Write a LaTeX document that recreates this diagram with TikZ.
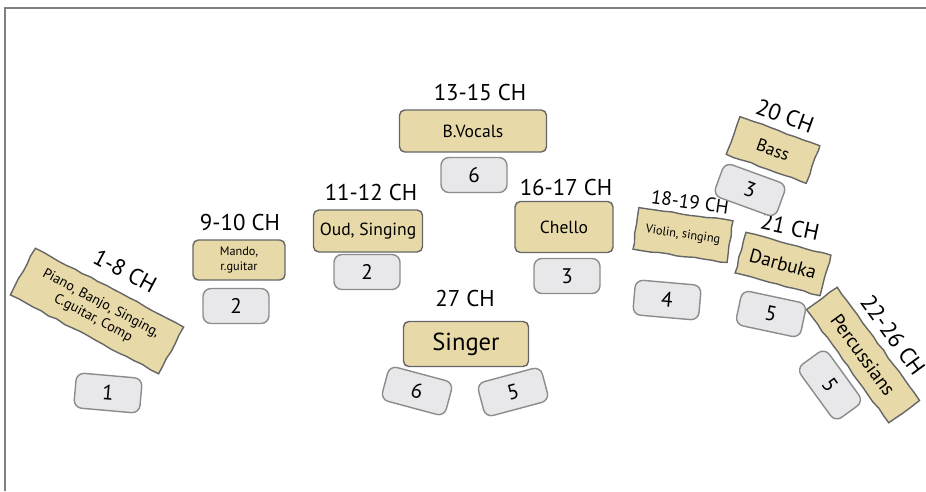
\documentclass[tikz,border=0pt]{standalone}
\usepackage{fontspec}
\setmainfont{PT Sans}
\usetikzlibrary{decorations.pathmorphing}
\definecolor{parttan}{RGB}{232,218,168}
\definecolor{seatgray}{RGB}{232,232,234}
\definecolor{framegray}{RGB}{128,128,128}

\tikzset{
  part/.style={draw=black!60, fill=parttan, rounded corners=3pt, line width=0.8pt, inner sep=1pt, align=center, font=\fontsize{10}{11}\selectfont},
  seat/.style={draw=black!45, fill=seatgray, rounded corners=4.5pt, line width=0.8pt, minimum width=1.32cm, minimum height=0.7cm, inner sep=0pt, font=\fontsize{12}{12}\selectfont},
  chan/.style={inner sep=1pt, font=\fontsize{13}{13}\selectfont},
  rough/.style={sharp corners, decorate, decoration={random steps, segment length=5pt, amplitude=0.4pt}}
}

\begin{document}
\begin{tikzpicture}[x=0.02cm, y=-0.02cm]
            \useasboundingbox (0,0) rectangle (926,491);
            \draw[framegray, line width=1.2pt] (5,491) -- (5,8) -- (926,8);

            % instruments
            \node[part, rough, rotate=-28, minimum width=3.36cm, minimum height=1.06cm, font=\fontsize{8}{9.5}\selectfont] (piano) at (97,311) {Piano, Banjo, Singing,\\ C.guitar, Comp};
            \node[part, minimum width=1.84cm, minimum height=0.8cm, font=\fontsize{7}{8}\selectfont] (mando) at (239,260) {Mando,\\ r.guitar};
            \node[part, minimum width=2.18cm, minimum height=0.84cm] (oud) at (368,231) {Oud, Singing};
            \node[part, minimum width=2.94cm, minimum height=0.84cm] (bvocals) at (473,131) {B.Vocals};
            \node[part, minimum width=1.96cm, minimum height=1.02cm] (chello) at (564,227) {Chello};
            \node[part, minimum width=2.5cm, minimum height=0.9cm, font=\fontsize{14}{14}\selectfont] (singer) at (466,344) {Singer};
            \node[part, rough, rotate=-8, minimum width=1.9cm, minimum height=0.84cm, font=\fontsize{7}{8}\selectfont] (violin) at (683,235) {Violin, singing};
            \node[part, rough, rotate=-20, minimum width=1.7cm, minimum height=0.8cm] (bass) at (773,150) {Bass};
            \node[part, rough, rotate=-15, minimum width=1.76cm, minimum height=0.84cm, font=\fontsize{11}{11}\selectfont] (darbuka) at (783,264) {Darbuka};
            \node[part, rough, rotate=-54, minimum width=2.8cm, minimum height=0.76cm, font=\fontsize{11}{11}\selectfont] (perc) at (863,355) {Percussians};

            % channels
            \node[chan, rotate=-28] (pianoch) at (125,271) {1-8 CH};
            \node[chan] (mandoch) at (240,222) {9-10 CH};
            \node[chan] (oudch) at (371,192) {11-12 CH};
            \node[chan] (bvocalsch) at (480,92) {13-15 CH};
            \node[chan] (chelloch) at (566,187) {16-17 CH};
            \node[chan] (singerch) at (465,298) {27 CH};
            \node[chan, rotate=-8, font=\fontsize{11}{11}\selectfont] (violinch) at (690,202) {18-19 CH};
            \node[chan, rotate=-20] (bassch) at (785,116) {20 CH};
            \node[chan, rotate=-12] (darbukach) at (790,227) {21 CH};
            \node[chan, rotate=-54] (percch) at (893,335) {22-26 CH};

            % seats
            \foreach \n/\x/\y/\r/\t in {s1/108/393/-5/1, s2/236/306/0/2, s3/367/272/0/2, s4/474/175/0/6, s5/567/276/0/3, s6/417/391/-15/6, s7/513/392/15/5, s8/667/300/-5/4, s9/750/190/-20/3, s10/771/314/-12/5, s11/830/385/-54/5} {
                \node[seat, rotate=\r] (\n) at (\x,\y) {\t};
            }

        \end{tikzpicture}
\end{document}
